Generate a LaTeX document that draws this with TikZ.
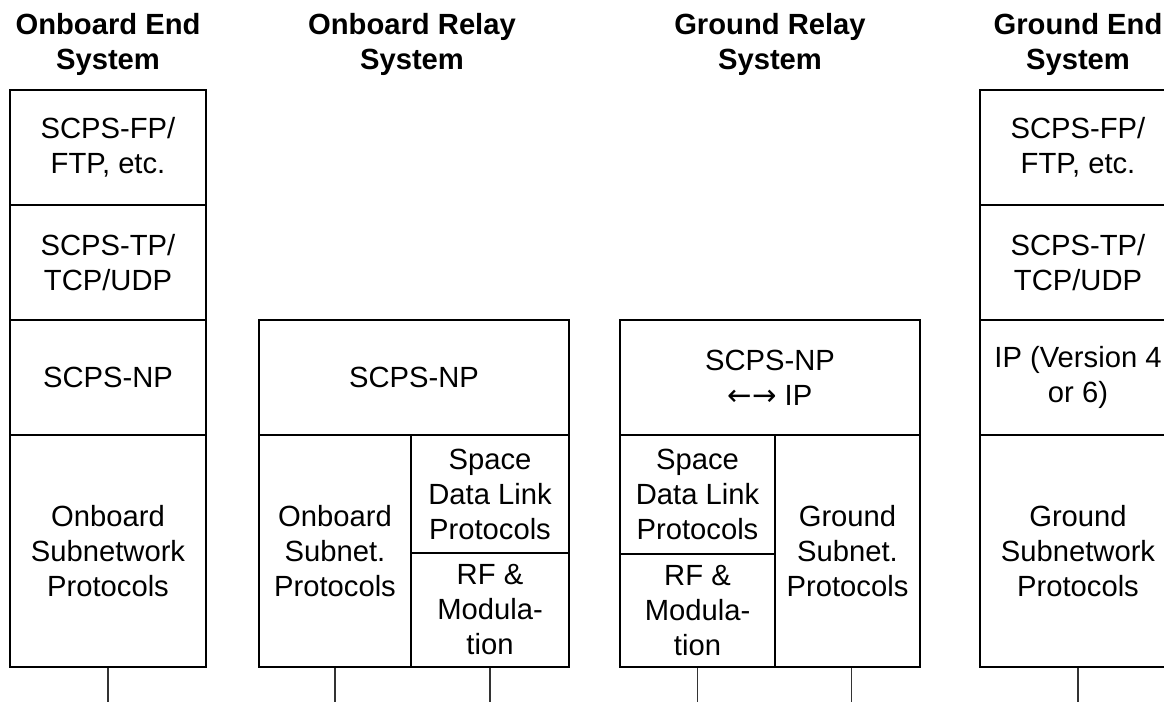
\documentclass[tikz,border=0pt]{standalone}
\usepackage{fontspec}
\setmainfont{Liberation Sans}
\newfontfamily\arrowfont{DejaVu Sans}

\tikzset{
  layer/.style={draw, rectangle, line width=1.2pt, inner sep=0pt, align=center,
    font=\fontsize{14.6}{17.5}\selectfont},
  sysname/.style={align=center, font=\bfseries\fontsize{14.6}{17.5}\selectfont},
  wire/.style={line width=0.6pt, black!80}
}

\begin{document}
\begin{tikzpicture}[x=0.5pt,y=-0.5pt]

\clip (0,0) rectangle (1164,702);
\coordinate (base) at (0,702);

% system names
\node[sysname] (oesname) at (108,44) {Onboard End\\System};
\node[sysname] (orsname) at (412,44) {Onboard Relay\\System};
\node[sysname] (grsname) at (770,44) {Ground Relay\\System};
\node[sysname] (gesname) at (1078,44) {Ground End\\System};

% onboard end system
\node[layer,minimum width=98pt,minimum height=57.5pt] (oes1) at (108,147.5) {SCPS-FP/\\FTP, etc.};
\node[layer,minimum width=98pt,minimum height=57.5pt] (oes2) at (108,262.5) {SCPS-TP/\\TCP/UDP};
\node[layer,minimum width=98pt,minimum height=57.5pt] (oes3) at (108,377.5) {SCPS-NP};
\node[layer,minimum width=98pt,minimum height=116pt] (oes4) at (108,551) {Onboard\\Subnetwork\\Protocols};

% onboard relay system
\node[layer,minimum width=155pt,minimum height=57.5pt] (ors1) at (414,377.5) {SCPS-NP};
\node[layer,minimum width=76pt,minimum height=116pt] (ors2) at (335,551) {Onboard\\Subnet.\\Protocols};
\node[layer,minimum width=79pt,minimum height=59pt] (ors3) at (490,494) {Space\\Data Link\\Protocols};
\node[layer,minimum width=79pt,minimum height=57pt] (ors4) at (490,610) {RF \&\\Modula-\\tion};

% ground relay system
\node[layer,minimum width=150pt,minimum height=57.5pt] (grs1) at (770,377.5) {SCPS-NP\\{\arrowfont ←→} IP};
\node[layer,minimum width=77.5pt,minimum height=59.5pt] (grs2) at (697.5,494.5) {Space\\Data Link\\Protocols};
\node[layer,minimum width=77.5pt,minimum height=56.5pt] (grs3) at (697.5,610.5) {RF \&\\Modula-\\tion};
\node[layer,minimum width=72.5pt,minimum height=116pt] (grs4) at (847.5,551) {Ground\\Subnet.\\Protocols};

% ground end system
\node[layer,minimum width=98pt,minimum height=57.5pt] (ges1) at (1078,147.5) {SCPS-FP/\\FTP, etc.};
\node[layer,minimum width=98pt,minimum height=57.5pt] (ges2) at (1078,262.5) {SCPS-TP/\\TCP/UDP};
\node[layer,minimum width=98pt,minimum height=57.5pt] (ges3) at (1078,377.5) {IP (Version 4\\or 6)};
\node[layer,minimum width=98pt,minimum height=116pt] (ges4) at (1078,551) {Ground\\Subnetwork\\Protocols};

% links below
\draw[wire] (oes4.south) -- (oes4.south |- base);
\draw[wire] (ors2.south) -- (ors2.south |- base);
\draw[wire] (ors4.south) -- (ors4.south |- base);
\draw[wire] (grs3.south) -- (grs3.south |- base);
\draw[wire] ([xshift=2pt]grs4.south) -- ([xshift=2pt]grs4.south |- base);
\draw[wire] (ges4.south) -- (ges4.south |- base);

\end{tikzpicture}
\end{document}
